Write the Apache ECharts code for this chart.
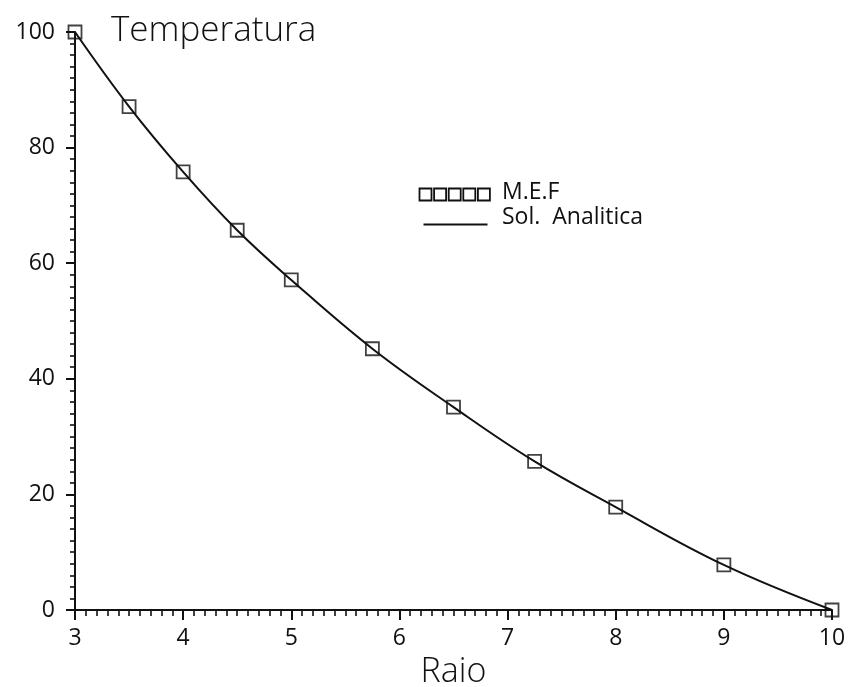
<!DOCTYPE html>
<html>
<head>
<meta charset="utf-8">
<script src="https://cdn.jsdelivr.net/npm/echarts@6/dist/echarts.min.js"></script>
<style>
  html, body { margin: 0; padding: 0; background: #ffffff; }
  #chart { width: 849px; height: 687px; }
</style>
</head>
<body>
<div id="chart"></div>
<script>
// Radius positions of the finite-element nodes
const raio = [3, 3.5, 4, 4.5, 5, 5.75, 6.5, 7.25, 8, 9, 10];
// Temperature computed by the finite element method (M.E.F)
const tempMEF = [100, 87.1, 75.8, 65.7, 57.1, 45.2, 35.1, 25.7, 17.8, 7.8, 0];
// Analytical solution
const raioAnalitica = [3, 3.5, 4, 4.5, 5, 5.75, 6.5, 7.25, 8, 9, 10];
const tempAnalitica = [100, 87.1, 75.8, 65.7, 57.1, 45.2, 35.1, 25.7, 17.8, 7.8, 0];

const FONT = 'Open Sans';
const INK = '#111111';

const chart = echarts.init(document.getElementById('chart'), null, { renderer: 'canvas' });

const pairs = (xs, ys) => xs.map((x, i) => [x, ys[i]]);

chart.setOption({
  backgroundColor: '#ffffff',
  animation: false,
  title: {
    text: 'Temperatura',
    left: 106,
    top: 9,
    textStyle: { fontFamily: FONT, fontSize: 35, fontWeight: 300, color: INK, letterSpacing: 2 }
  },
  grid: { left: 75, right: 17, top: 32, bottom: 77, containLabel: false, outerBoundsMode: 'none' },
  xAxis: {
    type: 'value',
    min: 3, max: 10, interval: 1,
    name: 'Raio',
    nameLocation: 'middle',
    nameGap: 26,
    nameTextStyle: { fontFamily: FONT, fontSize: 34, fontWeight: 300, color: INK, letterSpacing: 1 },
    axisLine: { show: true, lineStyle: { color: INK, width: 2 } },
    axisTick: { show: true, inside: false, length: 10, lineStyle: { color: INK, width: 2 } },
    minorTick: { show: true, splitNumber: 10, length: 6, lineStyle: { color: INK, width: 1.6 } },
    axisLabel: { margin: 17, fontFamily: FONT, fontSize: 23, color: INK },
    splitLine: { show: false }
  },
  yAxis: {
    type: 'value',
    min: 0, max: 100, interval: 20,
    axisLine: { show: true, lineStyle: { color: INK, width: 2 } },
    axisTick: { show: true, inside: false, length: 9, lineStyle: { color: INK, width: 2 } },
    minorTick: { show: true, splitNumber: 10, length: 5, lineStyle: { color: INK, width: 1.6 } },
    axisLabel: { margin: 20, fontFamily: FONT, fontSize: 23, color: INK },
    splitLine: { show: false }
  },
  graphic: [
    {
      type: 'group',
      left: 417, top: 186,
      children: [0, 1, 2, 3, 4].map(i => ({
        type: 'rect',
        shape: { x: i * 14.6, y: 0, width: 12, height: 12 },
        style: { fill: 'none', stroke: INK, lineWidth: 1.8 }
      }))
    },
    {
      type: 'text', left: 502, top: 181,
      style: { text: 'M.E.F', font: '23px "' + FONT + '"', fill: INK }
    },
    {
      type: 'line', left: 421, top: 222,
      shape: { x1: 0, y1: 0, x2: 64, y2: 0 },
      style: { stroke: INK, lineWidth: 2 }
    },
    {
      type: 'text', left: 502, top: 206,
      style: { text: 'Sol.  Analitica', font: '23px "' + FONT + '"', fill: INK, letterSpacing: 3 }
    }
  ],
  series: [
    {
      name: 'Sol. Analitica',
      type: 'line',
      data: pairs(raioAnalitica, tempAnalitica),
      smooth: 0.4,
      showSymbol: false,
      lineStyle: { color: INK, width: 2 },
      z: 2
    },
    {
      name: 'M.E.F',
      type: 'scatter',
      data: pairs(raio, tempMEF),
      symbol: 'rect',
      symbolSize: 13,
      itemStyle: { color: 'rgba(255,255,255,0)', borderColor: INK, borderWidth: 1.8 },
      z: 3
    }
  ]
});
</script>
</body>
</html>
